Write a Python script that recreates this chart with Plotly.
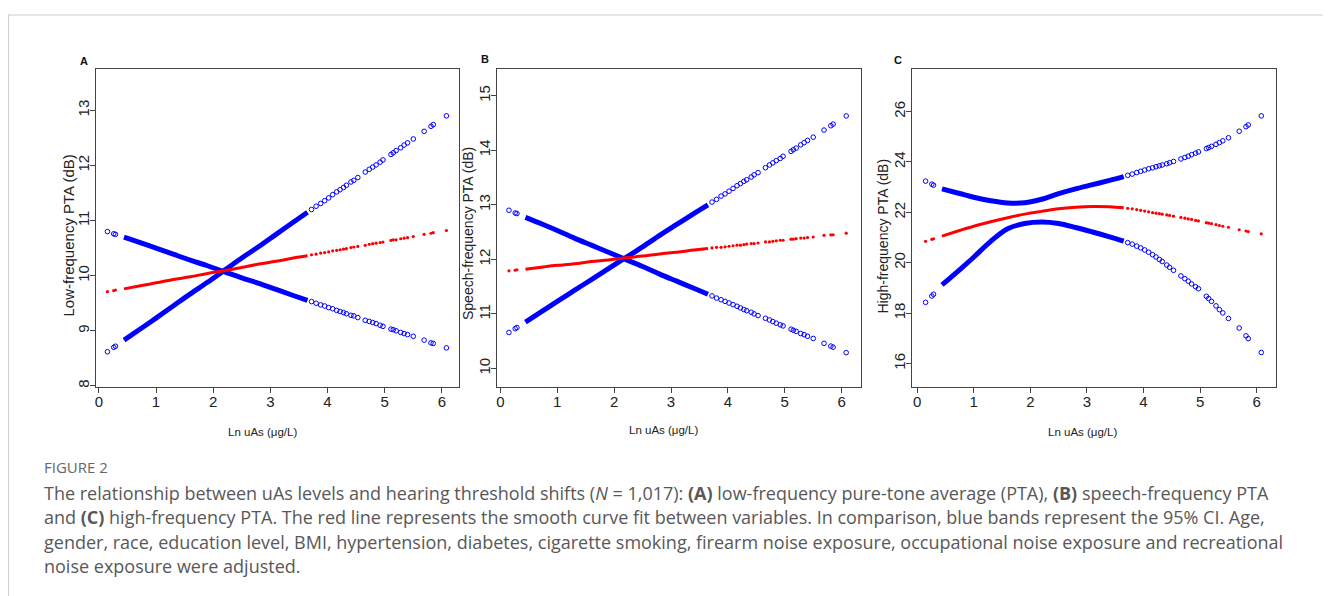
import plotly.graph_objects as go

# ---- shared sample positions of Ln uAs ----
x_left = [0.15, 0.26, 0.29]
x_dense = [0.44, 0.75, 1.0, 1.3, 1.6, 1.9, 2.2, 2.5, 2.8, 3.1, 3.4, 3.65]
x_right = [3.72, 3.80, 3.88, 3.95, 4.02, 4.09, 4.16, 4.22, 4.28, 4.33, 4.41, 4.46, 4.53,
           4.66, 4.73, 4.79, 4.85, 4.92, 4.97, 5.11, 5.15, 5.20, 5.28, 5.34, 5.40, 5.50,
           5.69, 5.81, 5.85, 6.08]

# ---- Panel A: low-frequency PTA ----
a_fit = [9.71, 9.73, 9.74,
         9.76, 9.82, 9.87, 9.93, 9.98, 10.04, 10.09, 10.15, 10.21, 10.26, 10.32, 10.36,
         10.38, 10.39, 10.41, 10.42, 10.43, 10.45, 10.46, 10.47, 10.48, 10.49, 10.51, 10.52, 10.53,
         10.55, 10.57, 10.58, 10.59, 10.60, 10.61, 10.64, 10.65, 10.65, 10.67, 10.68, 10.69, 10.71,
         10.75, 10.77, 10.78, 10.82]
a_ci1 = [10.80, 10.76, 10.75,
         10.70, 10.59, 10.50, 10.39, 10.28, 10.18, 10.07, 9.96, 9.86, 9.75, 9.64, 9.55,
         9.53, 9.50, 9.47, 9.45, 9.42, 9.40, 9.37, 9.35, 9.33, 9.31, 9.28, 9.27, 9.24,
         9.19, 9.17, 9.15, 9.13, 9.10, 9.08, 9.03, 9.02, 9.00, 8.97, 8.95, 8.93, 8.90,
         8.83, 8.78, 8.77, 8.69]
a_ci2 = [8.62, 8.70, 8.72,
         8.83, 9.05, 9.23, 9.45, 9.67, 9.88, 10.10, 10.32, 10.53, 10.75, 10.97, 11.15,
         11.20, 11.26, 11.31, 11.36, 11.41, 11.47, 11.52, 11.56, 11.60, 11.64, 11.70, 11.73, 11.78,
         11.88, 11.93, 11.97, 12.01, 12.06, 12.10, 12.20, 12.23, 12.27, 12.32, 12.37, 12.41, 12.48,
         12.62, 12.71, 12.74, 12.90]

# ---- Panel B: speech-frequency PTA ----
b_fit = [11.79, 11.80, 11.81,
         11.82, 11.86, 11.89, 11.92, 11.96, 11.99, 12.03, 12.06, 12.10, 12.13, 12.17, 12.20,
         12.21, 12.22, 12.22, 12.23, 12.24, 12.25, 12.26, 12.26, 12.27, 12.28, 12.29, 12.29, 12.30,
         12.32, 12.32, 12.33, 12.34, 12.35, 12.35, 12.37, 12.37, 12.38, 12.39, 12.39, 12.40, 12.41,
         12.44, 12.45, 12.45, 12.48]
b_ci1 = [12.90, 12.85, 12.84,
         12.77, 12.64, 12.53, 12.39, 12.26, 12.13, 12.00, 11.87, 11.73, 11.60, 11.47, 11.36,
         11.33, 11.29, 11.26, 11.23, 11.20, 11.17, 11.14, 11.11, 11.08, 11.06, 11.03, 11.00, 10.97,
         10.92, 10.89, 10.86, 10.83, 10.80, 10.78, 10.72, 10.70, 10.68, 10.64, 10.62, 10.59, 10.55,
         10.46, 10.41, 10.39, 10.29]
b_ci2 = [10.66, 10.73, 10.75,
         10.85, 11.06, 11.23, 11.43, 11.63, 11.83, 12.03, 12.23, 12.44, 12.64, 12.84, 13.00,
         13.05, 13.10, 13.16, 13.20, 13.25, 13.30, 13.35, 13.39, 13.43, 13.46, 13.51, 13.55, 13.59,
         13.68, 13.73, 13.77, 13.81, 13.85, 13.89, 13.98, 14.01, 14.04, 14.10, 14.14, 14.18, 14.24,
         14.37, 14.45, 14.48, 14.63]

# ---- Panel C: high-frequency PTA ----
c_fit = [20.85, 20.93, 20.95,
         21.06, 21.28, 21.45, 21.63, 21.79, 21.93, 22.04, 22.14, 22.20, 22.23, 22.22, 22.18,
         22.16, 22.14, 22.11, 22.08, 22.05, 22.02, 21.99, 21.97, 21.95, 21.93, 21.90, 21.88, 21.85,
         21.80, 21.77, 21.74, 21.72, 21.68, 21.66, 21.59, 21.57, 21.55, 21.51, 21.48, 21.45, 21.41,
         21.31, 21.26, 21.24, 21.15]
c_ci1 = [23.24, 23.12, 23.08,
         22.93, 22.75, 22.60, 22.46, 22.37, 22.38, 22.52, 22.74, 22.93, 23.10, 23.27, 23.42,
         23.47, 23.52, 23.58, 23.63, 23.68, 23.73, 23.77, 23.81, 23.85, 23.88, 23.93, 23.97, 24.02,
         24.12, 24.18, 24.23, 24.29, 24.35, 24.40, 24.53, 24.57, 24.62, 24.70, 24.77, 24.84, 24.96,
         25.22, 25.40, 25.47, 25.83]
c_ci2 = [18.43, 18.68, 18.75,
         19.12, 19.72, 20.22, 20.85, 21.35, 21.56, 21.62, 21.56, 21.40, 21.22, 21.03, 20.86,
         20.80, 20.74, 20.66, 20.59, 20.51, 20.42, 20.32, 20.23, 20.13, 20.05, 19.91, 19.82, 19.70,
         19.48, 19.37, 19.27, 19.16, 19.05, 18.97, 18.67, 18.58, 18.47, 18.29, 18.14, 18.01, 17.79,
         17.41, 17.10, 16.99, 16.44]

panel_letters = ["A", "B", "C"]
y_titles = ["Low-frequency PTA (dB)", "Speech-frequency PTA (dB)", "High-frequency PTA (dB)"]
x_title = "Ln uAs (\u03bcg/L)"
x_ticks = [0, 1, 2, 3, 4, 5, 6]
y_ticks_a = [8, 9, 10, 11, 12, 13]
y_ticks_b = [10, 11, 12, 13, 14, 15]
y_ticks_c = [16, 18, 20, 22, 24, 26]

caption_head = "FIGURE 2"
caption_lines = [
    "The relationship between uAs levels and hearing threshold shifts (<i>N</i> = 1,017): <b>(A)</b> low-frequency pure-tone average (PTA), <b>(B)</b> speech-frequency PTA",
    "and <b>(C)</b> high-frequency PTA. The red line represents the smooth curve fit between variables. In comparison, blue bands represent the 95% CI. Age,",
    "gender, race, education level, BMI, hypertension, diabetes, cigarette smoking, firearm noise exposure, occupational noise exposure and recreational",
    "noise exposure were adjusted.",
]

# ---- layout geometry (screen pixels; page body has an 8px margin) ----
W, H = 1331, 596
OFF = 8


def px(xp):
    return (xp - OFF) / W


def py(yp):
    return 1 - (yp - OFF) / H


boxes = [(96, 459), (497, 861), (912, 1276)]
box_top, box_bot = 69, 387
x_ranges = [[-0.05, 6.30], [-0.06, 6.34], [-0.09, 6.34]]
y_ranges = [[7.98, 13.75], [9.66, 15.49], [15.07, 27.69]]
y_ticks = [y_ticks_a, y_ticks_b, y_ticks_c]
series = [(a_fit, a_ci1, a_ci2), (b_fit, b_ci1, b_ci2), (c_fit, c_ci1, c_ci2)]

BLUE = "rgb(0,0,255)"
RED = "rgb(255,0,0)"
nL, nD = len(x_left), len(x_dense)

fig = go.Figure()
layout = dict(width=W, height=H, margin=dict(l=0, r=0, t=0, b=0),
              paper_bgcolor="white", plot_bgcolor="white", showlegend=False)

axis_font = dict(family="Liberation Sans, Arial, sans-serif", size=15, color="#222")
for i in range(3):
    xa = "x" if i == 0 else f"x{i+1}"
    ya = "y" if i == 0 else f"y{i+1}"
    fit, ci1, ci2 = series[i]
    for ys, color, is_fit in [(ci1, BLUE, False), (ci2, BLUE, False), (fit, RED, True)]:
        fig.add_trace(go.Scatter(
            x=x_dense, y=ys[nL:nL + nD], mode="lines", xaxis=xa, yaxis=ya,
            line=dict(color=color, width=3.0 if is_fit else 5.0, shape="spline"),
            hoverinfo="skip"))
        fig.add_trace(go.Scatter(
            x=x_left + x_right, y=ys[:nL] + ys[nL + nD:], mode="markers", xaxis=xa, yaxis=ya,
            marker=dict(symbol="circle" if is_fit else "circle-open",
                        size=3.2 if is_fit else 4.6, color=color,
                        line=dict(width=0 if is_fit else 1.0, color=color)),
            hoverinfo="skip"))
    x0, x1 = boxes[i]
    suffix = "" if i == 0 else str(i + 1)
    layout["xaxis" + suffix] = dict(
        domain=[px(x0), px(x1)], range=x_ranges[i], anchor=ya,
        tickvals=x_ticks, ticks="outside", ticklen=5, tickcolor="#444",
        ticklabelstandoff=-4,
        showline=True, linecolor="#444", linewidth=1, mirror=True,
        showgrid=False, zeroline=False, tickfont=axis_font)
    layout["yaxis" + suffix] = dict(
        domain=[py(box_bot), py(box_top)], range=y_ranges[i], anchor=xa,
        tickvals=y_ticks[i], ticks="outside", ticklen=5, tickcolor="#444", tickangle=-90,
        ticklabelstandoff=-5,
        showline=True, linecolor="#444", linewidth=1, mirror=True,
        showgrid=False, zeroline=False, tickfont=axis_font)

fig.update_layout(**layout)

ann = []
letter_pos = [(83.5, 61), (485, 59), (898, 60)]
ytitle_pos = [(67.5, 236), (468, 234), (882.5, 236)]
ytitle_size = [15, 14, 14]
xtitle_pos = [(262, 432), (663, 430), (1082, 432)]
for i in range(3):
    ann.append(dict(x=px(letter_pos[i][0]), y=py(letter_pos[i][1]), xref="paper", yref="paper",
                    xanchor="center", yanchor="middle",
                    text=f"<b>{panel_letters[i]}</b>", showarrow=False,
                    font=dict(family="Liberation Sans, Arial", size=11, color="#111")))
    ann.append(dict(x=px(ytitle_pos[i][0]), y=py(ytitle_pos[i][1]), xref="paper", yref="paper",
                    xanchor="center", yanchor="middle",
                    text=y_titles[i], textangle=-90, showarrow=False,
                    font=dict(family="Liberation Sans, Arial", size=ytitle_size[i], color="#222")))
    ann.append(dict(x=px(xtitle_pos[i][0]), y=py(xtitle_pos[i][1]), xref="paper", yref="paper",
                    xanchor="center", yanchor="middle",
                    text=x_title, showarrow=False,
                    font=dict(family="Liberation Sans, Arial", size=11.5, color="#222")))

ann.append(dict(x=px(42), y=py(467), xref="paper", yref="paper", xanchor="left", yanchor="middle",
                text=caption_head, showarrow=False,
                font=dict(family="Open Sans, Lato, sans-serif", size=15, color="#666")))
line_y = [493, 517, 542, 566]
for t, yy in zip(caption_lines, line_y):
    ann.append(dict(x=px(42), y=py(yy), xref="paper", yref="paper", xanchor="left",
                    yanchor="middle", text=t, showarrow=False,
                    font=dict(family="Open Sans, Lato, sans-serif", size=18, color="#585858")))

shapes = [
    dict(type="line", xref="paper", yref="paper", x0=0, x1=1, y0=py(15), y1=py(15),
         line=dict(color="#cccccc", width=1)),
    dict(type="line", xref="paper", yref="paper", x0=0.6 / W, x1=0.6 / W, y0=0, y1=py(15),
         line=dict(color="#cccccc", width=1)),
]
fig.update_layout(annotations=ann, shapes=shapes)

fig.write_html("out.html")
